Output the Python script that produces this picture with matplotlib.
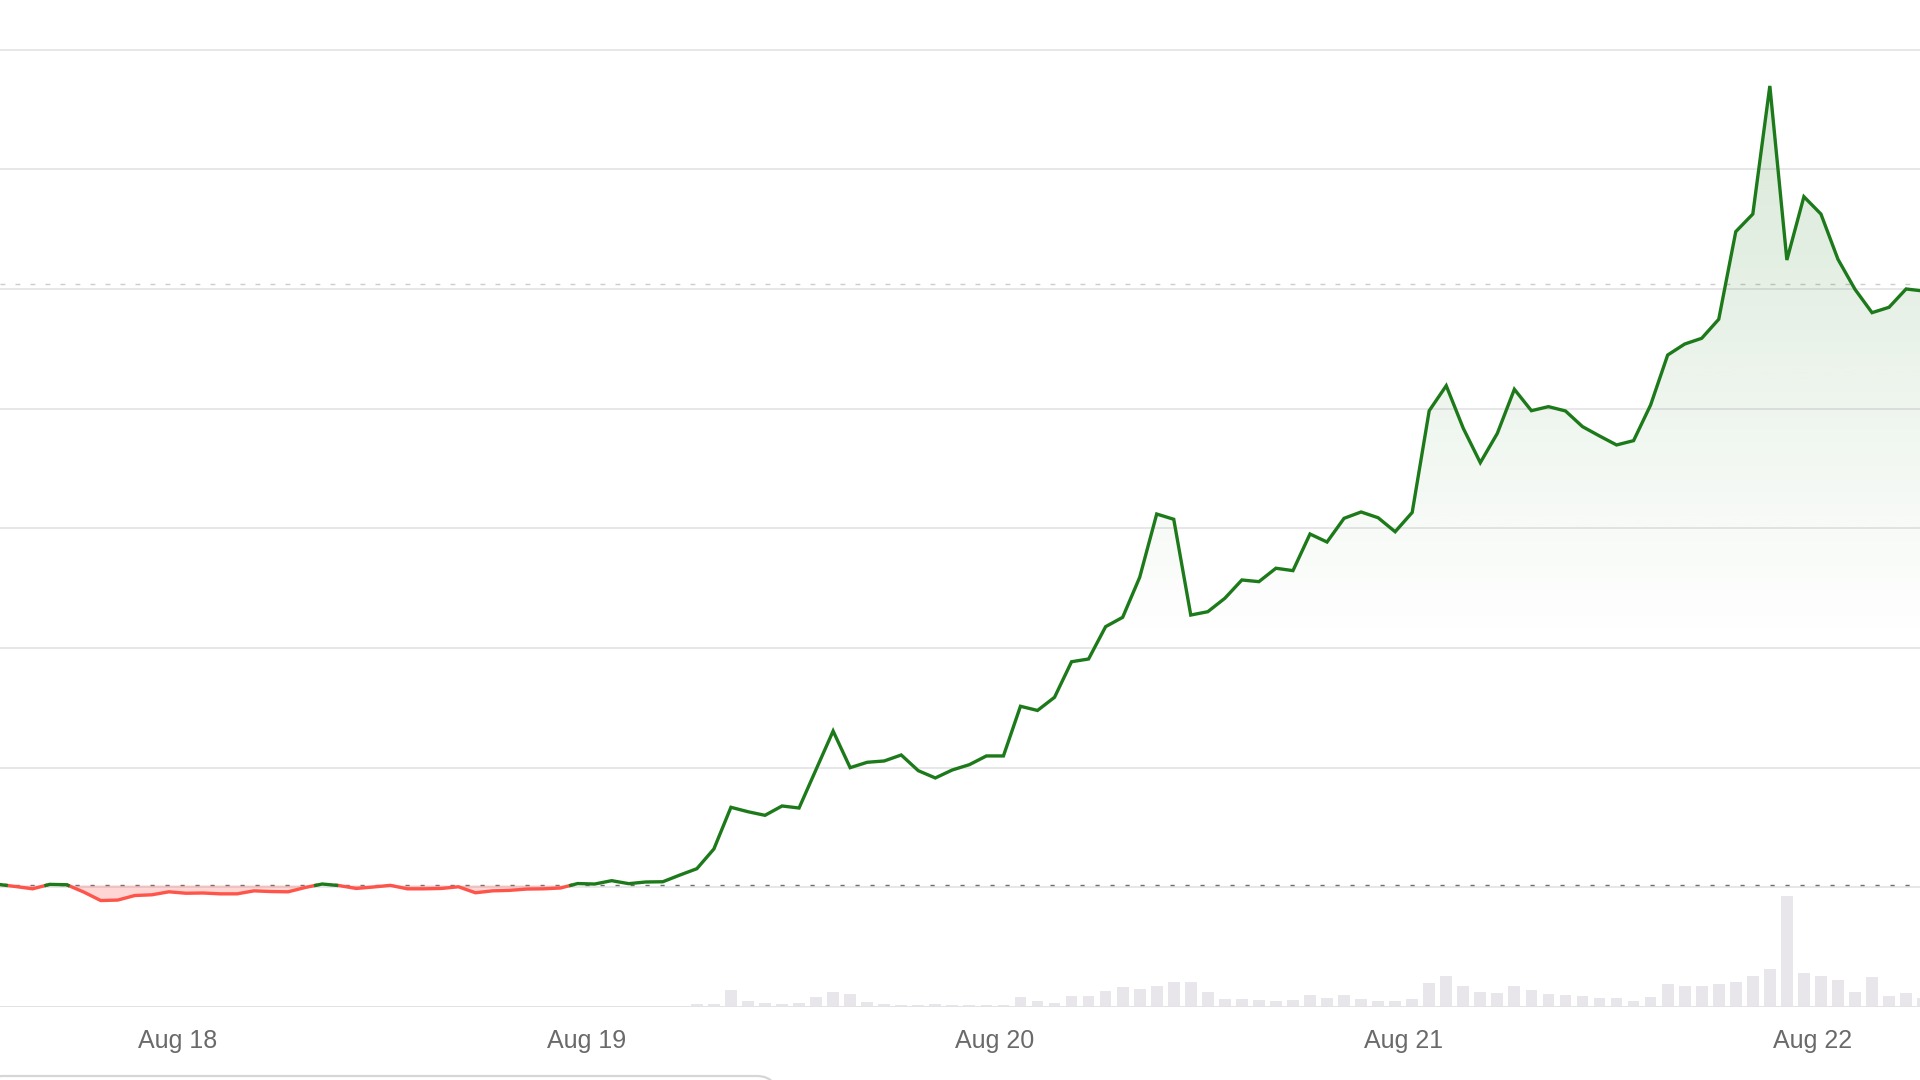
import numpy as np
import matplotlib
matplotlib.use("Agg")
import matplotlib.pyplot as plt
import matplotlib.dates as mdates
from matplotlib.patches import FancyBboxPatch
from matplotlib.path import Path
import datetime as dt

# ---------------- data ----------------
start_time = dt.datetime(2024, 8, 17, 13, 30)   # first hourly sample
n_hours = 114

price = [
    10.26, 10.08, 9.89, 10.26, 10.23, 9.62, 8.91, 8.95, 9.33, 9.39, 9.64,
    9.52, 9.54, 9.47, 9.47, 9.72, 9.66, 9.64, 10.00, 10.29, 10.16, 9.92,
    10.04, 10.18, 9.89, 9.89, 9.92, 10.06, 9.56, 9.72, 9.76, 9.87, 9.89,
    9.96, 10.33, 10.29, 10.57, 10.32, 10.46, 10.48, 11.04, 11.57, 13.22,
    16.70, 16.33, 16.03, 16.81, 16.64, 19.86, 23.07, 20.01, 20.46, 20.57,
    21.07, 19.76, 19.15, 19.82, 20.26, 20.99, 20.99, 25.14, 24.79, 25.89,
    28.86, 29.09, 31.79, 32.57, 35.91, 41.20, 40.76, 32.76, 33.04, 34.16,
    35.69, 35.55, 36.67, 36.47, 39.53, 38.86, 40.84, 41.37, 40.89, 39.72,
    41.33, 49.83, 51.92, 48.36, 45.49, 47.94, 51.62, 49.83, 50.17, 49.81,
    48.50, 47.72, 46.97, 47.33, 50.31, 54.48, 55.40, 55.88, 57.47, 64.79,
    66.26, 76.96, 62.42, 67.71, 66.26, 62.48, 59.97, 58.02, 58.47, 60.00,
    59.83,
]

volume = [
    0, 0, 0, 0, 0, 0, 0.7, 0, 0, 0, 0,
    0, 0, 0, 0, 0, 0, 0, 0.7, 0, 0, 0,
    0, 0, 0, 0, 0, 0, 0, 0, 0, 0, 0,
    0, 0, 0, 0, 0, 0.3, 0.3, 1.3, 3.0, 2.7,
    16.7, 5.7, 4.3, 2.7, 3.7, 10.0, 14.7, 12.7, 4.7, 3.0,
    2.3, 2.0, 2.7, 2.0, 1.7, 2.0, 2.0, 9.7, 6.3, 4.3,
    11.0, 10.7, 15.7, 20.3, 18.0, 21.3, 25.3, 25.0, 14.7, 8.3,
    8.3, 7.0, 6.3, 7.3, 12.0, 9.0, 11.7, 8.3, 6.0, 6.3,
    7.7, 24.0, 31.3, 21.3, 15.3, 13.7, 21.3, 17.3, 13.3, 12.3,
    11.0, 8.7, 8.7, 5.7, 9.7, 23.3, 21.0, 21.0, 22.7, 24.7,
    31.0, 37.7, 111.3, 34.3, 31.0, 27.3, 15.3, 30.0, 10.7, 14.3,
    9.0,
]

reference_price = 10.18      # previous close (dotted line)
upper_marker = 60.39         # dashed reference line
grid_levels = [10, 20, 30, 40, 50, 60, 70, 80]
tick_days = [dt.datetime(2024, 8, d) for d in (18, 19, 20, 21, 22)]

# ---------------- styling ----------------
GREEN = "#1d7a1a"
RED = "#ff5449"
GRID = "#e3e3e6"
VOL = "#e8e6ea"

times = [start_time + dt.timedelta(hours=i) for i in range(n_hours)]
x = mdates.date2num(times)
y = np.array(price, dtype=float)

W, H = 1920, 1080
fig = plt.figure(figsize=(19.2, 10.8), dpi=100)
fig.patch.set_facecolor("white")

bottom_px = 1007
ax = fig.add_axes([0, 1 - bottom_px / H, 1, bottom_px / H])
ax.set_facecolor("none")
xmin = mdates.date2num(dt.datetime(2024, 8, 17, 13, 35))
xmax = mdates.date2num(dt.datetime(2024, 8, 22, 6, 19))
ylo, yhi = 0.017, 84.14

# volume bars on twin axes
axv = ax.twinx()
axv.set_ylim(0, bottom_px)
axv.bar(x, volume, width=0.69 / 24, color=VOL, zorder=1)
axv.set_yticks([])
for s in axv.spines.values():
    s.set_visible(False)
axv.set_zorder(0)
ax.set_zorder(1)

# gridlines
for g in grid_levels:
    ax.axhline(g, color=GRID, lw=1.2, zorder=1)
ax.axhline(ylo, color=GRID, lw=1.4, zorder=1)

# reference lines
ax.axhline(reference_price, color="#6f6f6f", lw=1.0, linestyle=(0, (3.0, 7.8)), zorder=2)
ax.axhline(upper_marker, color="#cfcbd0", lw=1.0, linestyle=(0, (3.5, 7.3)), zorder=2)

# insert crossing points so the colour switches exactly at the reference
xs, ys = [x[0]], [y[0]]
for i in range(1, len(x)):
    y0, y1 = y[i - 1] - reference_price, y[i] - reference_price
    if y0 * y1 < 0:
        f = y0 / (y0 - y1)
        xs.append(x[i - 1] + f * (x[i] - x[i - 1]))
        ys.append(reference_price)
    xs.append(x[i])
    ys.append(y[i])
xs = np.array(xs)
ys = np.array(ys)

# red fill below reference
ax.fill_between(xs, ys, reference_price, where=ys <= reference_price,
                color=RED, alpha=0.24, linewidth=0, zorder=2)

# green gradient fill above reference
poly = ax.fill_between(xs, ys, reference_price, where=ys >= reference_price,
                       color="none", linewidth=0, zorder=2)
grad_top, grad_bot = 81.0, 30.5
n = 256
alpha = np.linspace(0.19, 0.0, n).reshape(-1, 1)
rgba = np.zeros((n, 1, 4))
rgba[..., 0] = 0x1d / 255
rgba[..., 1] = 0x7a / 255
rgba[..., 2] = 0x1a / 255
rgba[..., 3] = alpha
img = ax.imshow(rgba, extent=[xmin, xmax, grad_bot, grad_top], aspect="auto",
                origin="upper", zorder=2, interpolation="bilinear")
img.set_clip_path(Path.make_compound_path(*poly.get_paths()), transform=ax.transData)

# price line, split by colour
up = np.ma.masked_where(ys < reference_price, ys)
dn = np.ma.masked_where(ys > reference_price, ys)
ax.plot(xs, dn, color=RED, lw=2.4, solid_joinstyle="miter", zorder=4)
ax.plot(xs, up, color=GREEN, lw=2.4, solid_joinstyle="miter", zorder=4)

ax.set_xlim(xmin, xmax)
ax.set_ylim(ylo, yhi)

# axes cosmetics
for s in ax.spines.values():
    s.set_visible(False)
ax.set_yticks([])
ax.set_xticks(mdates.date2num(tick_days))
ax.xaxis.set_major_formatter(mdates.DateFormatter("%b %d"))
ax.tick_params(axis="x", length=0, pad=15.5, labelsize=18, labelcolor="#6a6a6a")
for lbl in ax.get_xticklabels():
    lbl.set_fontfamily(["Liberation Sans", "DejaVu Sans"])

# scrollbar at bottom
bar = FancyBboxPatch((-20 / W, -40 / H), 800 / W, 44 / H,
                     boxstyle="round,pad=0,rounding_size=0.012",
                     transform=fig.transFigure, facecolor="none",
                     edgecolor="#d6d6d8", lw=1.6)
fig.patches.append(bar)

fig.savefig("out.png", dpi=100, facecolor="white")
